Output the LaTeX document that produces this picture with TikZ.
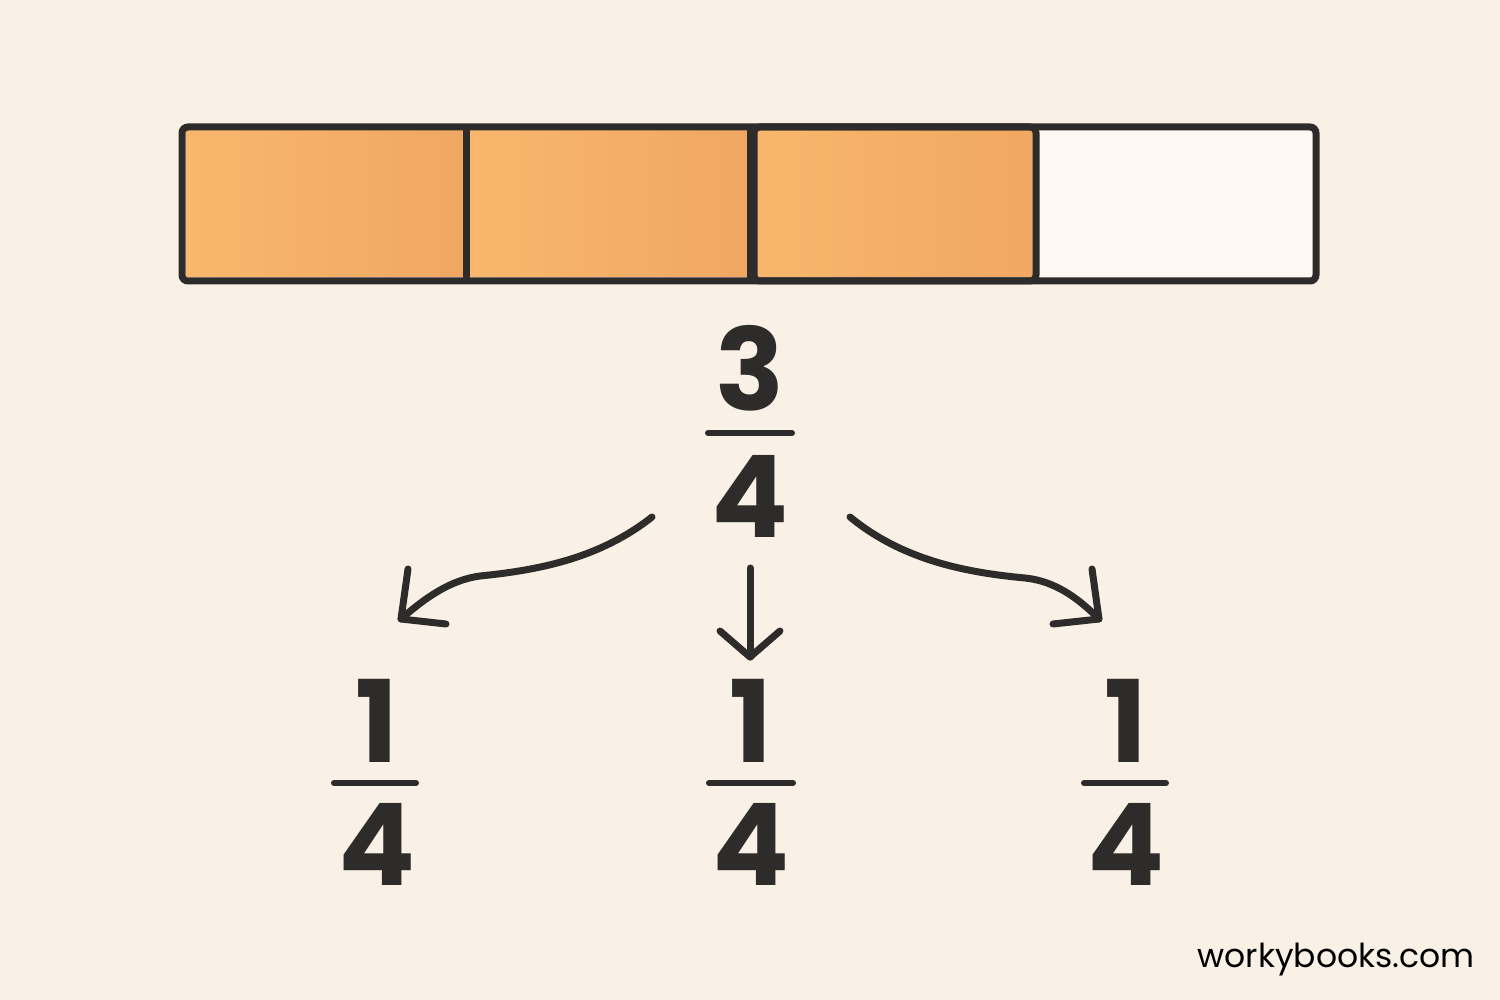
\documentclass[tikz,border=0pt]{standalone}
\usepackage{fontspec}
\setmainfont{Poppins}
\newfontfamily\digitfont{Poppins}
\definecolor{bg}{HTML}{FAF1E6}
\definecolor{ink}{HTML}{2E2C2A}
\definecolor{orL}{HTML}{F8B76D}
\definecolor{orR}{HTML}{F0A762}
\definecolor{emptycell}{HTML}{FDF8F1}
\begin{document}
\begin{tikzpicture}[x=0.5pt,y=-0.5pt,
  cellline/.style={draw=ink,line width=3.5pt,rounded corners=3pt},
  digit/.style={inner sep=0pt,text=ink,font=\digitfont\bfseries\fontsize{57}{57}\selectfont},
  fracbar/.style={draw=ink,line width=3pt,line cap=round},
  conn/.style={draw=ink,line width=3.5pt,line cap=round,line join=round},
  wmark/.style={inner sep=0pt,text=black,font=\fontsize{16.5}{17}\selectfont,anchor=base east}]
\fill[bg] (0,0) rectangle (1500,1000);
\useasboundingbox (0,0) rectangle (1500,1000);
% bar cells
\shade[left color=orL,right color=orR] (186,131) rectangle (466,277);
\shade[left color=orL,right color=orR] (466,131) rectangle (750,277);
\shade[left color=orL,right color=orR] (752,131) rectangle (1036,277);
\fill[emptycell] (1038,131) rectangle (1312,277);
\draw[cellline] (182,127) rectangle (1316,281);
\draw[ink,line width=3.5pt] (466,127) -- (466,281);
\draw[ink,line width=3.5pt] (750,127) -- (750,281);
\draw[cellline] (754,127) rectangle (1036,281);
% top fraction
\node[digit] (tn) at (750,368) {3};
\node[digit] (td) at (750,496) {4};
\coordinate (tbL) at (708,433);
\coordinate (tbR) at (792,433);
\draw[fracbar] (tbL) -- (tbR);
% bottom fractions
\node[digit] (ln) at (377,721) {1};
\node[digit] (ld) at (377,844) {4};
\coordinate (lbL) at (334,783);
\coordinate (lbR) at (416,783);
\draw[fracbar] (lbL) -- (lbR);
\node[digit] (mn) at (751,721) {1};
\node[digit] (md) at (751,844) {4};
\coordinate (mbL) at (709,783);
\coordinate (mbR) at (793,783);
\draw[fracbar] (mbL) -- (mbR);
\node[digit] (rn) at (1126,721) {1};
\node[digit] (rd) at (1126,844) {4};
\coordinate (rbL) at (1084,783);
\coordinate (rbR) at (1166,783);
\draw[fracbar] (rbL) -- (rbR);
% arrows
\coordinate (aLs) at (652,517);
\coordinate (aLt) at (401,619);
\coordinate (aLh1) at (408,569);
\coordinate (aLh2) at (446,624);
\draw[conn] (aLs) .. controls (600,558) and (540,570) .. (480,576)
  .. controls (450,580) and (425,598) .. (aLt);
\draw[conn] (aLh1) -- (aLt) -- (aLh2);
\coordinate (aMs) at (750,568);
\coordinate (aMt) at (750,657);
\coordinate (aMh1) at (720,631);
\coordinate (aMh2) at (780,631);
\draw[conn] (aMs) -- (aMt);
\draw[conn] (aMh1) -- (aMt) -- (aMh2);
\coordinate (aRs) at (850,517);
\coordinate (aRt) at (1099,619);
\coordinate (aRh1) at (1092,569);
\coordinate (aRh2) at (1053,624);
\draw[conn] (aRs) .. controls (900,558) and (960,572) .. (1025,578)
  .. controls (1055,581) and (1078,598) .. (aRt);
\draw[conn] (aRh1) -- (aRt) -- (aRh2);
% watermark
\node[wmark] (wm) at (1475,967) {workybooks.com};
\end{tikzpicture}
\end{document}
